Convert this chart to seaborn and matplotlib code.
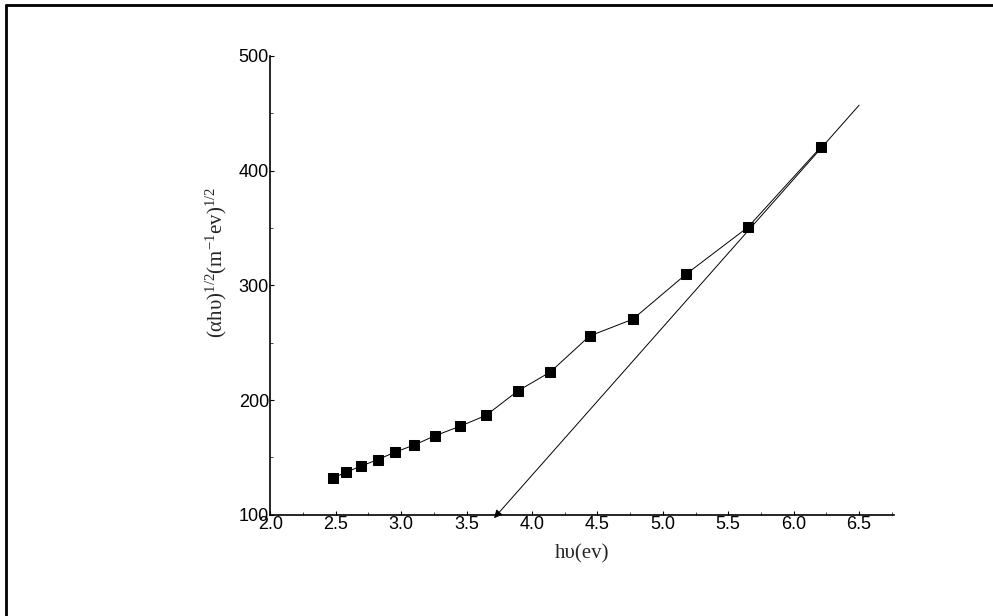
import matplotlib
matplotlib.use("Agg")
import matplotlib.pyplot as plt
import seaborn as sns
import pandas as pd
from matplotlib.ticker import MultipleLocator

# Data
photon_energy = [2.48, 2.58, 2.69, 2.82, 2.95, 3.10, 3.26, 3.45, 3.65,
                 3.89, 4.14, 4.44, 4.77, 5.18, 5.65, 6.21]
tauc_value = [132.0, 137.2, 142.2, 148.0, 154.4, 160.8, 168.9, 177.1, 186.7,
              207.8, 224.4, 255.8, 270.4, 309.9, 350.6, 420.8]
tangent_x = [6.50, 3.71]
tangent_y = [457.0, 97.0]
x_ticks = [2.0, 2.5, 3.0, 3.5, 4.0, 4.5, 5.0, 5.5, 6.0, 6.5]
y_ticks = [100, 200, 300, 400, 500]

sns.set_theme(style="white")
plt.rcParams['font.family'] = ['Liberation Sans', 'DejaVu Sans']
plt.rcParams['mathtext.fontset'] = 'custom'
plt.rcParams['mathtext.rm'] = 'Liberation Serif'
plt.rcParams['mathtext.it'] = 'Liberation Serif:italic'

fig = plt.figure(figsize=(9.93, 6.16), dpi=100)
ax = fig.add_axes([0.2722, 0.1644, 0.628, 0.7449])

df = pd.DataFrame({"hv": photon_energy, "val": tauc_value})
sns.lineplot(data=df, x="hv", y="val", ax=ax, color="black", linewidth=0.7,
             marker="s", markersize=7.5, markeredgecolor="black",
             markerfacecolor="black", sort=False)

ax.annotate("", xy=(tangent_x[1], tangent_y[1]), xytext=(tangent_x[0], tangent_y[0]),
            xycoords="data", textcoords="data", annotation_clip=False,
            arrowprops=dict(arrowstyle="-|>", color="black", lw=0.7,
                            mutation_scale=12, shrinkA=0, shrinkB=0))

ax.set_xlim(2.0, 6.766)
ax.set_ylim(100, 500)
ax.set_xticks(x_ticks)
ax.set_xticklabels([f"{t:.1f}" for t in x_ticks])
ax.set_yticks(y_ticks)
ax.set_yticklabels([str(t) for t in y_ticks])
ax.xaxis.set_minor_locator(MultipleLocator(0.25))
ax.yaxis.set_minor_locator(MultipleLocator(50))
ax.tick_params(axis="both", which="major", direction="in", length=3, width=0.8,
               labelsize=13, colors="black", pad=1)
ax.tick_params(axis="both", which="minor", direction="in", length=2, width=0.6)
ax.tick_params(axis="x", which="both", bottom=True)
ax.tick_params(axis="y", which="both", left=True)

for s in ["top", "right"]:
    ax.spines[s].set_visible(False)
for s in ["left", "bottom"]:
    ax.spines[s].set_color("black")
    ax.spines[s].set_linewidth(1.2)

ax.set_xlabel("hυ(ev)", fontsize=15, family=["Liberation Serif", "DejaVu Serif"],
              labelpad=8)
ax.set_ylabel(r"(αhυ)$^{1/2}$(m$^{-1}$ev)$^{1/2}$", fontsize=15,
              family=["Liberation Serif", "DejaVu Serif"])
ax.yaxis.set_label_coords(-0.067, 0.55)

# Figure frame (top and left edges)
fig.add_artist(plt.Line2D([6/993, 993/993], [1 - 5/616, 1 - 5/616],
                          transform=fig.transFigure, color="black", lw=2))
fig.add_artist(plt.Line2D([6/993, 6/993], [0, 1 - 5/616],
                          transform=fig.transFigure, color="black", lw=2))

fig.savefig("out.png", dpi=100)
